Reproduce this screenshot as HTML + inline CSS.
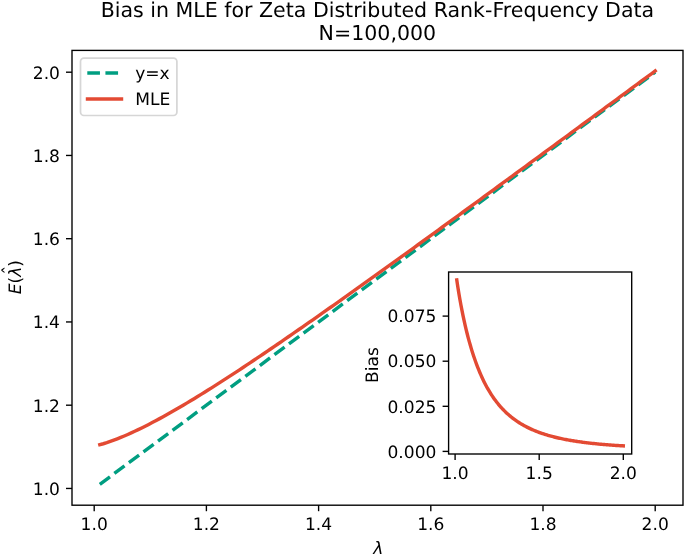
<!DOCTYPE html>
<html lang="en"><head><meta charset="utf-8"><title>Bias in MLE for Zeta Distributed Rank-Frequency Data</title>
<style>html,body{margin:0;padding:0;background:#fff;}svg{display:block;will-change:transform;}svg text{text-rendering:geometricPrecision;}</style></head>
<body>
<svg width="685" height="556" viewBox="0 0 685 556" font-family="'DejaVu Sans', 'Liberation Sans', sans-serif" fill="#000">
<rect width="685" height="556" fill="#fff"/>
<text x="377.4" y="17" font-size="20.56" text-anchor="middle">Bias in MLE for Zeta Distributed Rank-Frequency Data</text>
<text x="377.4" y="39.6" font-size="20.56" text-anchor="middle">N=100,000</text>
<defs><clipPath id="cm"><rect x="72.0" y="50.4" width="611.0" height="454.8"/></clipPath><clipPath id="ci"><rect x="448.6" y="272.0" width="183.10000000000002" height="182.0"/></clipPath></defs>
<g clip-path="url(#cm)" fill="none" stroke-width="3.42">
<path d="M99.81,484.29 L655.20,72.20" stroke="#009e81" stroke-dasharray="12.65 5.47"/>
<path d="M99.81,444.74 L103.30,443.75 L106.80,442.66 L110.29,441.47 L113.78,440.20 L117.28,438.86 L120.77,437.46 L124.26,436.00 L127.75,434.48 L131.25,432.91 L134.74,431.29 L138.23,429.63 L141.73,427.92 L145.22,426.18 L148.71,424.40 L152.21,422.59 L155.70,420.74 L159.19,418.87 L162.68,416.96 L166.18,415.02 L169.67,413.06 L173.16,411.08 L176.66,409.06 L180.15,407.03 L183.64,404.98 L187.14,402.90 L190.63,400.80 L194.12,398.69 L197.61,396.56 L201.11,394.41 L204.60,392.24 L208.09,390.06 L211.59,387.86 L215.08,385.65 L218.57,383.42 L222.07,381.18 L225.56,378.93 L229.05,376.67 L232.54,374.40 L236.04,372.11 L239.53,369.82 L243.02,367.51 L246.52,365.19 L250.01,362.87 L253.50,360.53 L257.00,358.19 L260.49,355.84 L263.98,353.48 L267.47,351.12 L270.97,348.74 L274.46,346.36 L277.95,343.97 L281.45,341.58 L284.94,339.18 L288.43,336.77 L291.93,334.36 L295.42,331.94 L298.91,329.52 L302.41,327.09 L305.90,324.66 L309.39,322.22 L312.88,319.78 L316.38,317.33 L319.87,314.88 L323.36,312.43 L326.86,309.97 L330.35,307.50 L333.84,305.04 L337.34,302.57 L340.83,300.09 L344.32,297.61 L347.81,295.13 L351.31,292.65 L354.80,290.16 L358.29,287.67 L361.79,285.18 L365.28,282.69 L368.77,280.19 L372.27,277.69 L375.76,275.19 L379.25,272.68 L382.74,270.17 L386.24,267.66 L389.73,265.15 L393.22,262.64 L396.72,260.12 L400.21,257.60 L403.70,255.08 L407.20,252.56 L410.69,250.04 L414.18,247.51 L417.67,244.99 L421.17,242.46 L424.66,239.93 L428.15,237.40 L431.65,234.86 L435.14,232.33 L438.63,229.79 L442.13,227.25 L445.62,224.72 L449.11,222.18 L452.60,219.63 L456.10,217.09 L459.59,214.55 L463.08,212.00 L466.58,209.46 L470.07,206.91 L473.56,204.36 L477.06,201.81 L480.55,199.26 L484.04,196.71 L487.54,194.16 L491.03,191.61 L494.52,189.05 L498.01,186.50 L501.51,183.94 L505.00,181.39 L508.49,178.83 L511.99,176.27 L515.48,173.72 L518.97,171.16 L522.47,168.60 L525.96,166.04 L529.45,163.47 L532.94,160.91 L536.44,158.35 L539.93,155.79 L543.42,153.22 L546.92,150.66 L550.41,148.09 L553.90,145.53 L557.40,142.96 L560.89,140.39 L564.38,137.83 L567.87,135.26 L571.37,132.69 L574.86,130.12 L578.35,127.55 L581.85,124.98 L585.34,122.41 L588.83,119.84 L592.33,117.27 L595.82,114.70 L599.31,112.13 L602.80,109.56 L606.30,106.98 L609.79,104.41 L613.28,101.84 L616.78,99.26 L620.27,96.69 L623.76,94.11 L627.26,91.54 L630.75,88.96 L634.24,86.39 L637.73,83.81 L641.23,81.24 L644.72,78.66 L648.21,76.08 L651.71,73.51 L655.20,70.93" stroke="#e34a33" stroke-linecap="square" stroke-linejoin="round"/>
</g>
<g stroke="#000" stroke-width="1.37" fill="none">
<path d="M94.20,505.2 v6"/>
<path d="M72.0,488.45 h-6"/>
<path d="M206.40,505.2 v6"/>
<path d="M72.0,405.20 h-6"/>
<path d="M318.60,505.2 v6"/>
<path d="M72.0,321.95 h-6"/>
<path d="M430.80,505.2 v6"/>
<path d="M72.0,238.70 h-6"/>
<path d="M543.00,505.2 v6"/>
<path d="M72.0,155.45 h-6"/>
<path d="M655.20,505.2 v6"/>
<path d="M72.0,72.20 h-6"/>
<rect x="72.0" y="50.4" width="611.0" height="454.8"/>
</g>
<g font-size="17.08">
<text x="94.20" y="530" text-anchor="middle">1.0</text>
<text x="60.0" y="494.75" text-anchor="end">1.0</text>
<text x="206.40" y="530" text-anchor="middle">1.2</text>
<text x="60.0" y="411.50" text-anchor="end">1.2</text>
<text x="318.60" y="530" text-anchor="middle">1.4</text>
<text x="60.0" y="328.25" text-anchor="end">1.4</text>
<text x="430.80" y="530" text-anchor="middle">1.6</text>
<text x="60.0" y="245.00" text-anchor="end">1.6</text>
<text x="543.00" y="530" text-anchor="middle">1.8</text>
<text x="60.0" y="161.75" text-anchor="end">1.8</text>
<text x="655.20" y="530" text-anchor="middle">2.0</text>
<text x="60.0" y="78.50" text-anchor="end">2.0</text>
</g>
<text x="378.3" y="553.8" font-size="17.08" font-style="italic" text-anchor="middle">λ</text>
<g transform="translate(21.4,277.2) rotate(-90)" font-size="17.08"><text x="0" y="0" text-anchor="middle"><tspan font-style="italic">E</tspan>(<tspan font-style="italic">λ</tspan>)</text><text x="7.0" y="-6.0" text-anchor="middle">ˆ</text></g>
<rect x="80.5" y="58.2" width="96.4" height="57.3" rx="3.4" ry="3.4" fill="#fff" fill-opacity="0.8" stroke="#ccc" stroke-opacity="0.8" stroke-width="1.71"/>
<path d="M87.3,73.05 H121.5" stroke="#009e81" stroke-width="3.42" stroke-dasharray="12.65 5.47" fill="none"/>
<path d="M87.5,99 H121.5" stroke="#e34a33" stroke-width="3.42" stroke-linecap="square" fill="none"/>
<text x="135.2" y="79.0" font-size="17.08">y=x</text>
<text x="135.2" y="105.0" font-size="17.08">MLE</text>
<rect x="448.6" y="272.0" width="183.10000000000002" height="182.0" fill="#fff"/>
<g clip-path="url(#ci)" fill="none" stroke-width="3.42"><path d="M456.78,280.02 L457.83,286.96 L458.88,293.44 L459.92,299.53 L460.97,305.28 L462.02,310.70 L463.07,315.85 L464.11,320.73 L465.16,325.38 L466.21,329.81 L467.25,334.03 L468.30,338.06 L469.35,341.91 L470.40,345.59 L471.44,349.12 L472.49,352.49 L473.54,355.72 L474.59,358.82 L475.63,361.78 L476.68,364.63 L477.73,367.36 L478.77,369.98 L479.82,372.50 L480.87,374.92 L481.92,377.24 L482.96,379.48 L484.01,381.63 L485.06,383.69 L486.11,385.68 L487.15,387.60 L488.20,389.44 L489.25,391.22 L490.30,392.93 L491.34,394.57 L492.39,396.16 L493.44,397.70 L494.48,399.17 L495.53,400.60 L496.58,401.97 L497.63,403.30 L498.67,404.58 L499.72,405.82 L500.77,407.02 L501.82,408.17 L502.86,409.29 L503.91,410.37 L504.96,411.41 L506.00,412.42 L507.05,413.40 L508.10,414.34 L509.15,415.26 L510.19,416.14 L511.24,417.00 L512.29,417.83 L513.34,418.64 L514.38,419.41 L515.43,420.17 L516.48,420.90 L517.52,421.61 L518.57,422.30 L519.62,422.97 L520.67,423.61 L521.71,424.24 L522.76,424.85 L523.81,425.44 L524.86,426.01 L525.90,426.57 L526.95,427.11 L528.00,427.64 L529.04,428.15 L530.09,428.65 L531.14,429.13 L532.19,429.60 L533.23,430.05 L534.28,430.49 L535.33,430.92 L536.38,431.34 L537.42,431.75 L538.47,432.15 L539.52,432.53 L540.56,432.91 L541.61,433.27 L542.66,433.63 L543.71,433.97 L544.75,434.31 L545.80,434.64 L546.85,434.96 L547.90,435.27 L548.94,435.57 L549.99,435.87 L551.04,436.16 L552.08,436.44 L553.13,436.71 L554.18,436.98 L555.23,437.24 L556.27,437.49 L557.32,437.74 L558.37,437.98 L559.42,438.22 L560.46,438.45 L561.51,438.67 L562.56,438.89 L563.60,439.10 L564.65,439.31 L565.70,439.52 L566.75,439.72 L567.79,439.91 L568.84,440.10 L569.89,440.28 L570.94,440.47 L571.98,440.64 L573.03,440.81 L574.08,440.98 L575.12,441.15 L576.17,441.31 L577.22,441.47 L578.27,441.62 L579.31,441.77 L580.36,441.92 L581.41,442.06 L582.46,442.20 L583.50,442.34 L584.55,442.47 L585.60,442.61 L586.65,442.74 L587.69,442.86 L588.74,442.98 L589.79,443.11 L590.83,443.22 L591.88,443.34 L592.93,443.45 L593.98,443.56 L595.02,443.67 L596.07,443.78 L597.12,443.88 L598.17,443.98 L599.21,444.08 L600.26,444.18 L601.31,444.28 L602.35,444.37 L603.40,444.46 L604.45,444.55 L605.50,444.64 L606.54,444.73 L607.59,444.81 L608.64,444.89 L609.69,444.97 L610.73,445.05 L611.78,445.13 L612.83,445.21 L613.87,445.28 L614.92,445.36 L615.97,445.43 L617.02,445.50 L618.06,445.57 L619.11,445.64 L620.16,445.70 L621.21,445.77 L622.25,445.83 L623.30,445.90" stroke="#e34a33" stroke-linecap="square" stroke-linejoin="round"/></g>
<g stroke="#000" stroke-width="1.37" fill="none">
<path d="M455.10,454.0 v6"/>
<path d="M539.20,454.0 v6"/>
<path d="M623.30,454.0 v6"/>
<path d="M448.6,451.40 h-6"/>
<path d="M448.6,406.30 h-6"/>
<path d="M448.6,361.20 h-6"/>
<path d="M448.6,316.10 h-6"/>
<rect x="448.6" y="272.0" width="183.10000000000002" height="182.0"/>
</g>
<g font-size="17.08">
<text x="455.10" y="479" text-anchor="middle">1.0</text>
<text x="539.20" y="479" text-anchor="middle">1.5</text>
<text x="623.30" y="479" text-anchor="middle">2.0</text>
<text x="436.4" y="457.60" text-anchor="end">0.000</text>
<text x="436.4" y="412.50" text-anchor="end">0.025</text>
<text x="436.4" y="367.40" text-anchor="end">0.050</text>
<text x="436.4" y="322.30" text-anchor="end">0.075</text>
<text transform="translate(377.7,365) rotate(-90)" text-anchor="middle">Bias</text>
</g>
</svg>
</body></html>
